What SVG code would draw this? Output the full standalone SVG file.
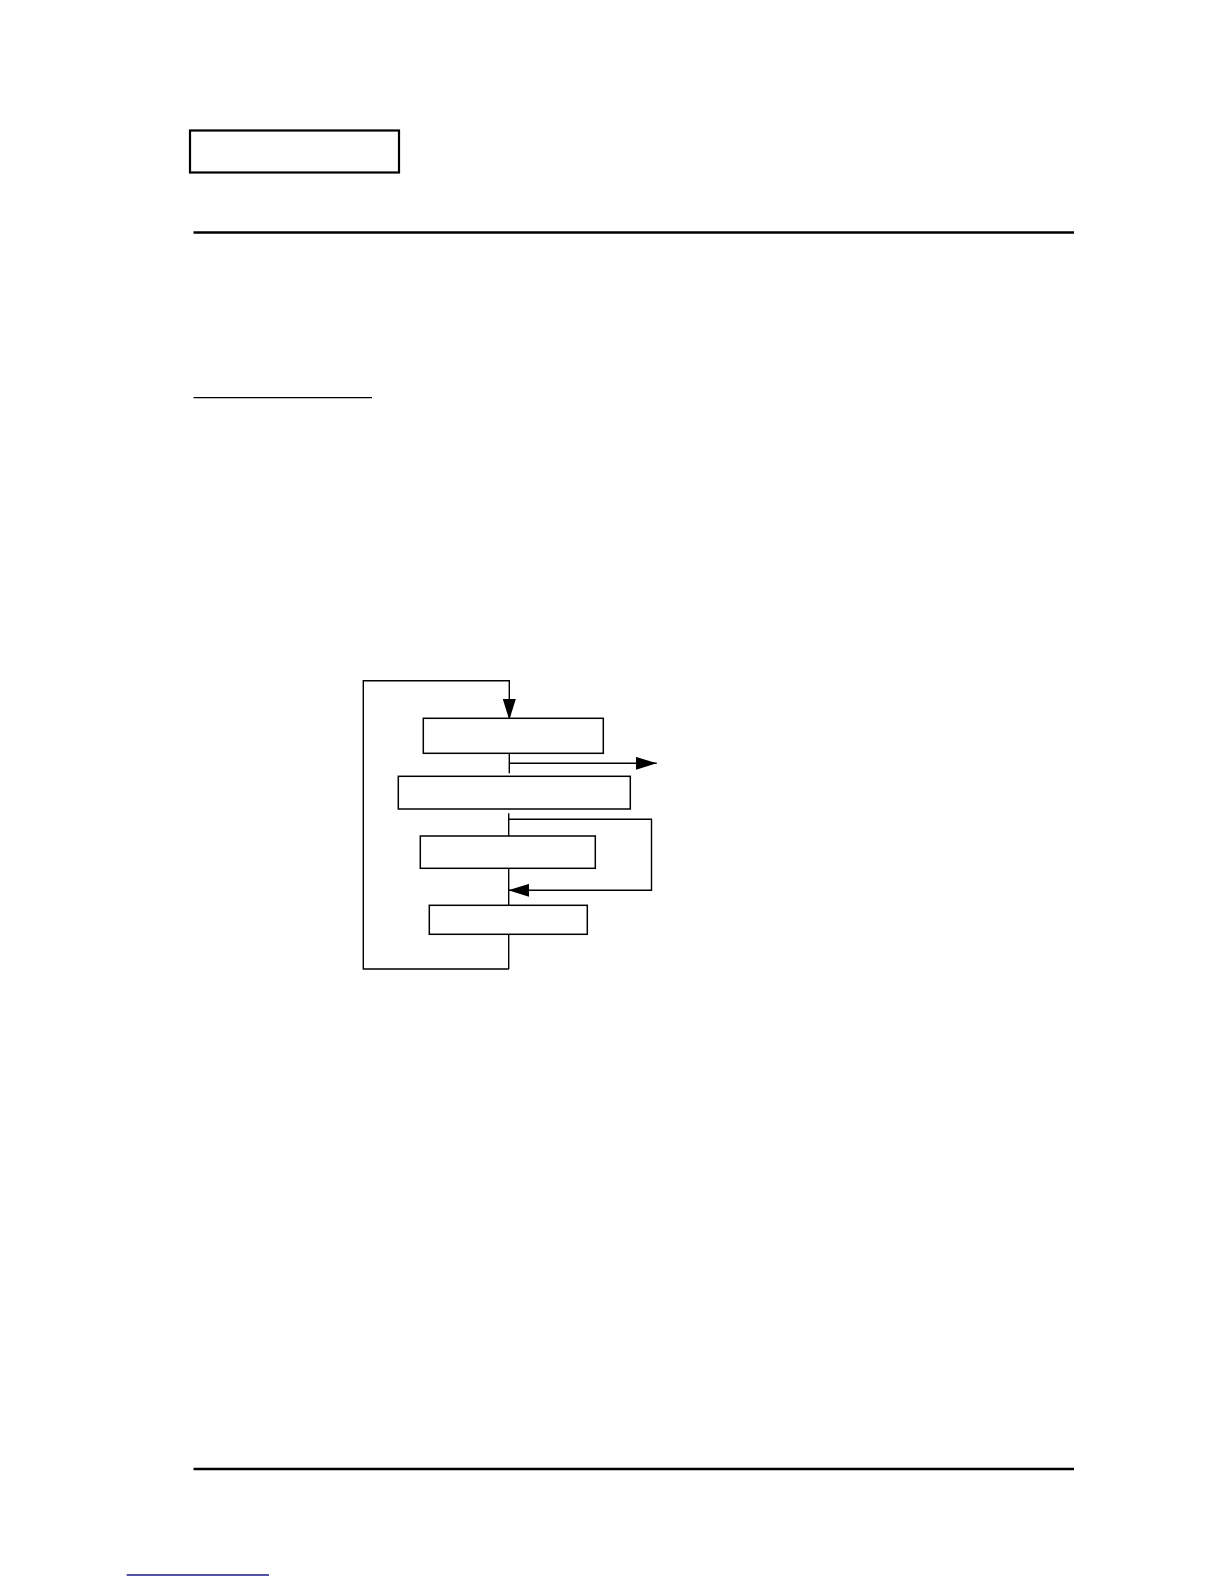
<svg xmlns="http://www.w3.org/2000/svg" width="1224" height="1584" viewBox="0 0 1224 1584">
<style>
.box{fill:#fff;stroke:#000;stroke-width:1.5}
.ln{fill:none;stroke:#000;stroke-width:1.4}
.rule{stroke:#000;stroke-width:2.4}
</style>
<defs>
<marker id="ah" markerWidth="21" markerHeight="13" refX="21" refY="6.5" orient="auto" markerUnits="userSpaceOnUse">
<path d="M0,0 L21,6.5 L0,13 Z" fill="#000"/>
</marker>
</defs>
<rect width="1224" height="1584" fill="#fff"/>
<g id="header">
<rect x="190" y="130.5" width="209" height="42" fill="#fff" stroke="#000" stroke-width="2.2"/>
<line class="rule" x1="193.5" y1="232.5" x2="1074" y2="232.5"/>
<line x1="193.5" y1="397.7" x2="372" y2="397.7" stroke="#000" stroke-width="1.3"/>
</g>
<g id="connectors">
<polyline class="ln" points="509,969 363.3,969 363.3,680.7 509.3,680.7 509.3,720" marker-end="url(#ah)"/>
<line class="ln" x1="509.3" y1="753" x2="509.3" y2="773.3"/>
<line class="ln" x1="510" y1="763.3" x2="656.7" y2="763.3" marker-end="url(#ah)"/>
<line class="ln" x1="508.7" y1="813.3" x2="508.7" y2="840"/>
<polyline class="ln" points="508.7,819.3 651.5,819.3 651.5,891"/>
<line class="ln" x1="651.5" y1="890.3" x2="508.3" y2="890.3" marker-end="url(#ah)"/>
<line class="ln" x1="508.7" y1="868" x2="508.7" y2="906.7"/>
<line class="ln" x1="508.7" y1="934" x2="508.7" y2="969"/>
</g>
<g id="node1"><rect class="box" x="423.3" y="718.3" width="180" height="35"/></g>
<g id="node2"><rect class="box" x="398.3" y="776.3" width="232" height="32.7"/></g>
<g id="node3"><rect class="box" x="420.3" y="836" width="175" height="32.3"/></g>
<g id="node4"><rect class="box" x="429.3" y="905.3" width="158" height="29"/></g>
<g id="footer">
<line class="rule" x1="193.5" y1="1469" x2="1074" y2="1469"/>
<line x1="126.7" y1="1575" x2="269" y2="1575" stroke="#1a1a8c" stroke-width="1.4"/>
</g>
</svg>
